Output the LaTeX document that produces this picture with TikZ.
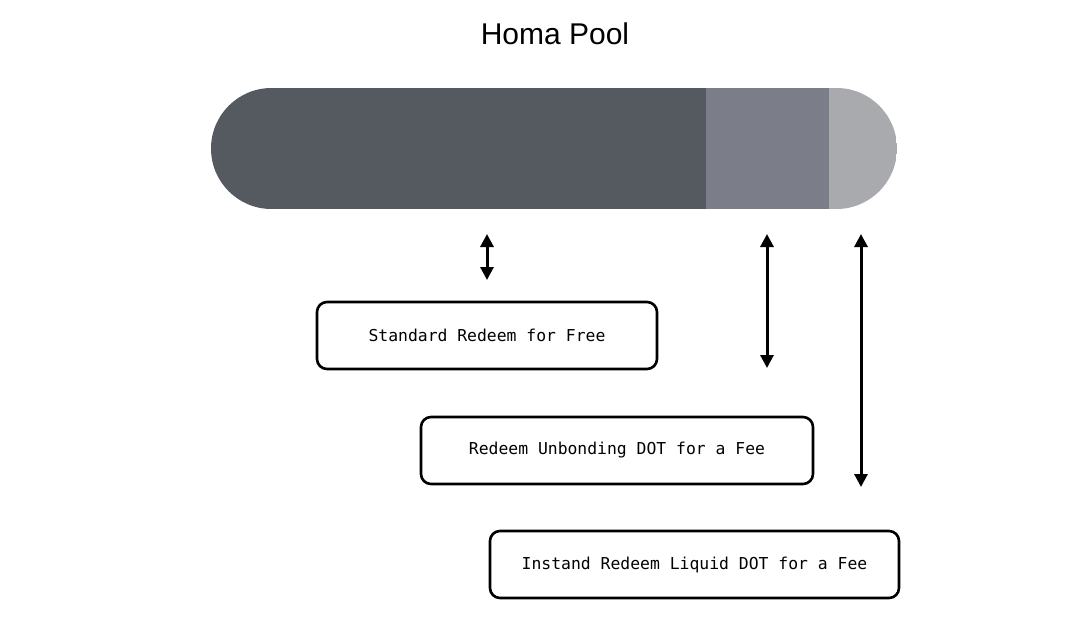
\documentclass[tikz,border=0pt]{standalone}
\usepackage{fontspec}
\setmainfont{Liberation Sans}
\newfontfamily\monofnt{DejaVu Sans Mono}
\usetikzlibrary{arrows.meta}
\definecolor{segdark}{HTML}{555960}
\definecolor{segmid}{HTML}{7B7E88}
\definecolor{seglight}{HTML}{A9AAAD}
\tikzset{
  optbox/.style={draw=black, line width=2.6pt, rounded corners=10pt, minimum height=67pt, inner sep=0pt, font=\monofnt\fontsize{16.4}{18}\selectfont},
  dblarrow/.style={line width=3pt, {Triangle[length=13pt,width=13pt]}-{Triangle[length=13pt,width=13pt]}},
}
\begin{document}
\begin{tikzpicture}[x=1pt,y=-1pt]
\useasboundingbox (0,0) rectangle (1080,618);
% title
\node (title) at (555,34) {\fontsize{30}{34}\selectfont Homa Pool};
% pill
\begin{scope}
  \clip[rounded corners=60.5pt] (211,88) rectangle (897,209);
  \fill[segdark] (211,88) rectangle (706,209);
  \fill[segmid] (706,88) rectangle (829,209);
  \fill[seglight] (829,88) rectangle (897,209);
\end{scope}
% boxes
\node[optbox, minimum width=340pt] (b1) at (487,335.5) {Standard Redeem for Free};
\node[optbox, minimum width=392pt] (b2) at (617,450.5) {Redeem Unbonding DOT for a Fee};
\node[optbox, minimum width=409pt] (b3) at (694.5,564.5) {Instand Redeem Liquid DOT for a Fee};
% arrow endpoints
\coordinate (a1t) at (487,234);
\coordinate (a1b) at (487,280);
\coordinate (a2t) at (767,234);
\coordinate (a2b) at (767,368);
\coordinate (a3t) at (861,234);
\coordinate (a3b) at (861,487);
\draw[dblarrow] (a1t) -- (a1b);
\draw[dblarrow] (a2t) -- (a2b);
\draw[dblarrow] (a3t) -- (a3b);
\end{tikzpicture}
\end{document}
